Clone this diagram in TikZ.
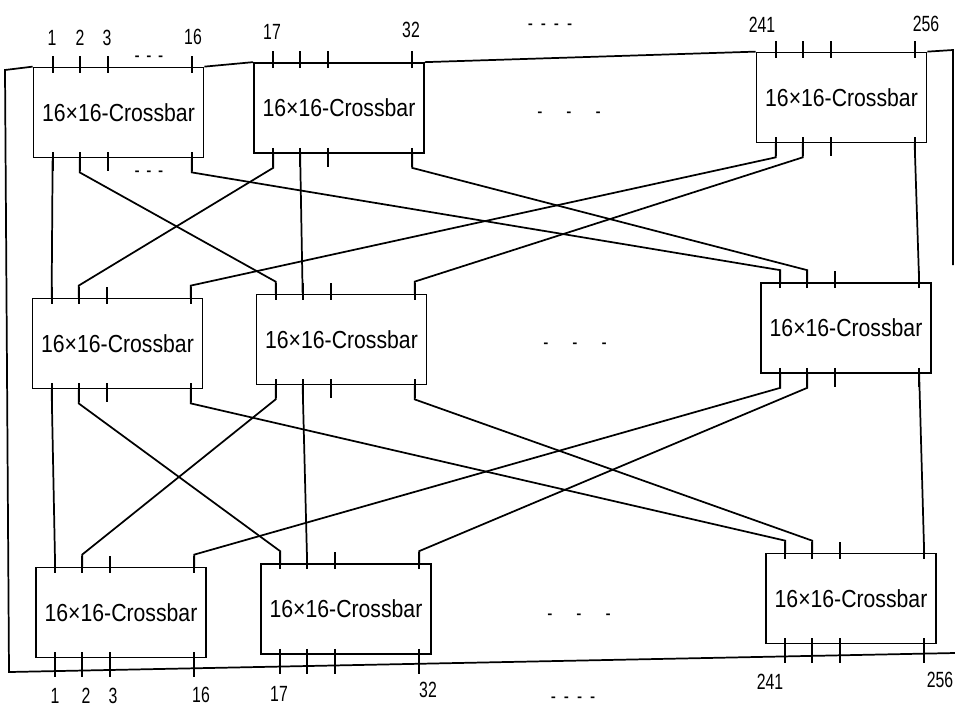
\documentclass[tikz,border=0pt]{standalone}
\usepackage{fontspec}
\setmainfont{Liberation Sans}
\newfontfamily\boxfont{Liberation Sans}[FakeStretch=0.86]
\newfontfamily\lblfont{Liberation Sans}[FakeStretch=0.72]
\usetikzlibrary{calc}
\begin{document}
\begin{tikzpicture}[x=0.75pt,y=-0.75pt,line width=1.3pt,
  xbar/.style={draw,rectangle,minimum width=127.5pt,minimum height=67.5pt,inner sep=0pt,
    font=\boxfont\fontsize{18.5pt}{20pt}\selectfont},
  lbl/.style={inner sep=0pt,font=\lblfont\fontsize{16.5pt}{18pt}\selectfont},
  dots/.style={inner sep=0pt,font=\lblfont\fontsize{16pt}{18pt}\selectfont}]
\useasboundingbox (0,0) rectangle (955,708);
% boxes
\node[xbar] (T1)  at (118.5,112.5) {16×16-Crossbar};
\node[xbar] (T2)  at (339,108)     {16×16-Crossbar};
\node[xbar] (T16) at (841.5,97.5)  {16×16-Crossbar};
\node[xbar] (M1)  at (117.5,343.5) {16×16-Crossbar};
\node[xbar] (M2)  at (341.5,339.5) {16×16-Crossbar};
\node[xbar] (M16) at (846,328)     {16×16-Crossbar};
\node[xbar] (B1)  at (121,612.5)   {16×16-Crossbar};
\node[xbar] (B2)  at (346,609)     {16×16-Crossbar};
\node[xbar] (B16) at (851,598.5)   {16×16-Crossbar};
% port coordinates
\foreach \b in {T1,T2,T16,M1,M2,M16,B1,B2,B16}{
  \foreach \p/\dx in {1/20,2/47,3/75,16/159}{
    \coordinate (\b-n\p) at ($(\b.north west)+(\dx,0)$);
    \coordinate (\b-s\p) at ($(\b.south west)+(\dx,0)$);
  }
}
% ticks
\foreach \b in {T1,T2,T16,M1,M2,M16}{
  \foreach \p in {1,2,3,16}{
    \draw ($(\b-n\p)+(0,6)$) -- ($(\b-n\p)+(0,-11)$);
    \draw ($(\b-s\p)+(0,-6)$) -- ($(\b-s\p)+(0,13)$);
  }
}
\foreach \b in {B1,B2,B16}{
  \foreach \p in {1,2,3,16}{
    \draw ($(\b-n\p)+(0,6)$) -- ($(\b-n\p)+(0,-11)$);
    \draw ($(\b-s\p)+(0,-6)$) -- ($(\b-s\p)+(0,19)$);
  }
}
% connections between stages
\foreach \s/\d in {T/M,M/B}{
  \foreach \i in {1,2,16}{
    \draw (\s\i-s\i) -- (\d\i-n\i);
  }
  \foreach \i/\j in {1/2,1/16,2/1,2/16,16/1,16/2}{
    \draw (\s\i-s\j) -- ++(0,14) -- ($(\d\j-n\i)+(0,-12)$) -- (\d\j-n\i);
  }
}
% outer frame
\coordinate (fTL) at (5,70);
\coordinate (fBL) at (9,672);
\coordinate (fBR) at (955,653);
\coordinate (fTR) at (953,50);
\coordinate (fRE) at (953,265);
\draw (fBR) -- (fBL) -- (fTL) -- (T1.north west);
\draw (T1.north east) -- (T2.north west);
\draw (T2.north east) -- (T16.north west);
\draw (T16.north east) -- (fTR) -- (fRE);
% top labels
\node[lbl] (lt1)   at (52,38)  {1};
\node[lbl] (lt2)   at (80,38)  {2};
\node[lbl] (lt3)   at (107,38) {3};
\node[lbl] (lt16)  at (193,37) {16};
\node[lbl] (lt17)  at (272,32) {17};
\node[lbl] (lt32)  at (411,30) {32};
\node[lbl] (lt241) at (762,25) {241};
\node[lbl] (lt256) at (926,24) {256};
% bottom labels
\node[lbl] (lb1)   at (55,696)  {1};
\node[lbl] (lb2)   at (86,696)  {2};
\node[lbl] (lb3)   at (113,696) {3};
\node[lbl] (lb16)  at (201,695) {16};
\node[lbl] (lb17)  at (279,694) {17};
\node[lbl] (lb32)  at (428,690) {32};
\node[lbl] (lb241) at (770,682) {241};
\node[lbl] (lb256) at (940,680) {256};
% ellipses
\node[dots] (d1) at (149,59)  {-\hspace{5pt}-\hspace{5pt}-};
\node[dots] (d2) at (149,174) {-\hspace{5pt}-\hspace{5pt}-};
\node[dots] (d3) at (550,27)  {-\hspace{6pt}-\hspace{6pt}-\hspace{6pt}-};
\node[dots] (d4) at (569,115) {-\hspace{18pt}-\hspace{18pt}-};
\node[dots] (d5) at (575,346) {-\hspace{18pt}-\hspace{18pt}-};
\node[dots] (d6) at (579,617) {-\hspace{18pt}-\hspace{18pt}-};
\node[dots] (d7) at (573,700) {-\hspace{6pt}-\hspace{6pt}-\hspace{6pt}-};
\end{tikzpicture}
\end{document}
